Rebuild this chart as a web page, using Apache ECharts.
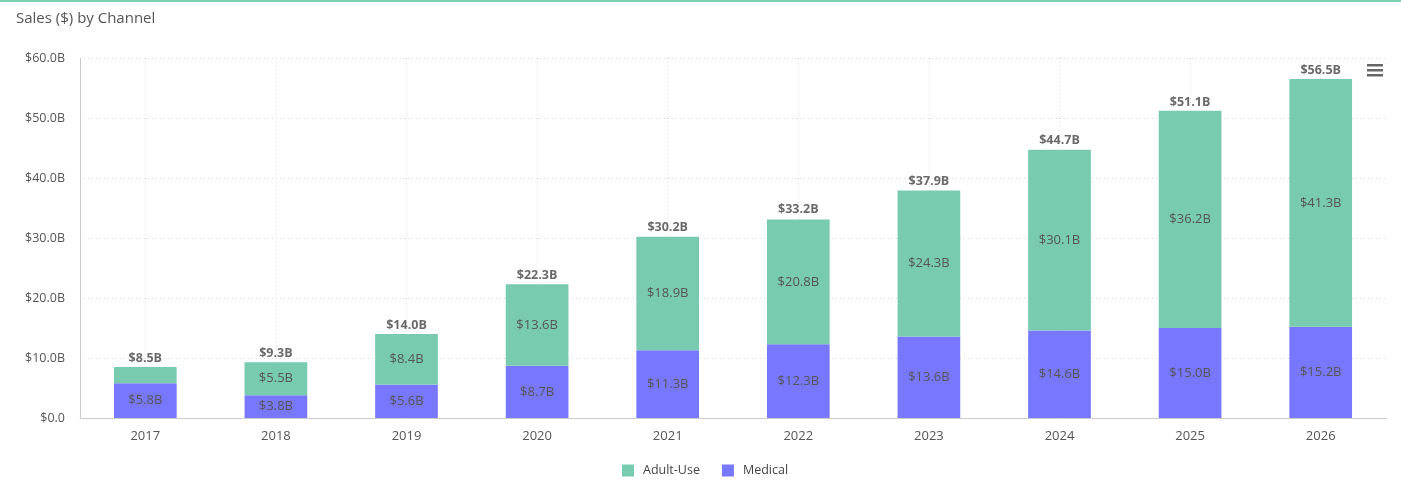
<!DOCTYPE html>
<html><head><meta charset="utf-8">
<script src="https://cdn.jsdelivr.net/npm/echarts@6/dist/echarts.min.js"></script>
<style>html,body{margin:0;padding:0;background:#fff}#c{width:1401px;height:487px}</style>
</head><body><div id="c"></div>
<script>
const years = ['2017','2018','2019','2020','2021','2022','2023','2024','2025','2026'];
const medical = [5.8, 3.8, 5.6, 8.7, 11.3, 12.3, 13.6, 14.6, 15.0, 15.2];
const adultUse = [2.7, 5.5, 8.4, 13.6, 18.9, 20.8, 24.3, 30.1, 36.2, 41.3];
const totals = [8.5, 9.3, 14.0, 22.3, 30.2, 33.2, 37.9, 44.7, 51.1, 56.5];
const yTicks = [0, 10, 20, 30, 40, 50, 60];

const FONT = '"Open Sans", sans-serif';
const GREEN = '#78cbaf';
const PURPLE = '#7878ff';
const fmtB = v => '$' + v.toFixed(1) + 'B';

const chart = echarts.init(document.getElementById('c'));
chart.setOption({
  animation: false,
  textStyle: { fontFamily: FONT },
  title: { text: 'Sales ($) by Channel', left: 11, top: 6,
    textStyle: { fontFamily: FONT, fontSize: 15, fontWeight: 'normal', color: '#555' } },
  legend: { bottom: 5, left: 617, itemWidth: 12, itemHeight: 12, itemGap: 22, icon: 'rect',
    data: ['Adult-Use', 'Medical'],
    textStyle: { fontFamily: FONT, fontSize: 12.5, color: '#444', padding: [0, 0, 0, 4] } },
  grid: { left: 80, right: 15, top: 58, bottom: 69, containLabel: false },
  xAxis: { type: 'category', data: years,
    axisLine: { lineStyle: { color: '#ccc' } },
    axisTick: { show: false },
    axisLabel: { color: '#555', fontSize: 13, margin: 12, fontFamily: FONT },
    splitLine: { show: true, alignWithLabel: true, lineStyle: { color: '#ddd', type: [1, 3] } } },
  yAxis: { type: 'value', min: yTicks[0], max: yTicks[yTicks.length - 1], interval: 10,
    axisLine: { show: true, lineStyle: { color: '#ccc' } },
    axisTick: { show: false },
    axisLabel: { color: '#555', fontSize: 12.5, margin: 15, fontFamily: FONT,
      formatter: v => v === 0 ? '$0.0' : fmtB(v) },
    splitLine: { lineStyle: { color: '#ddd', type: [1, 3] } } },
  series: [
    { name: 'Medical', type: 'bar', stack: 's', data: medical, barWidth: '48%',
      itemStyle: { color: PURPLE },
      label: { show: true, position: 'inside', color: '#555', fontSize: 13, fontFamily: FONT,
        formatter: p => fmtB(p.value) } },
    { name: 'Adult-Use', type: 'bar', stack: 's', data: adultUse, barWidth: '48%',
      itemStyle: { color: GREEN },
      label: { show: true, position: 'inside', color: '#555', fontSize: 13, fontFamily: FONT,
        formatter: p => p.value < 4 ? '' : fmtB(p.value) } },
    { name: 'Total', type: 'scatter', data: totals, symbolSize: 1, itemStyle: { color: 'rgba(0,0,0,0)' },
      silent: true, z: 5,
      label: { show: true, position: 'top', distance: 2, color: '#444', fontWeight: 'bold', fontSize: 12.5,
        fontFamily: FONT, formatter: p => fmtB(p.value) } }
  ],
  graphic: [
    { type: 'rect', left: 0, top: 0, shape: { width: 1401, height: 2 }, style: { fill: '#7fd1b6' } },
    { type: 'rect', left: 1367, top: 64, shape: { width: 16, height: 2.5 }, style: { fill: '#666' } },
    { type: 'rect', left: 1367, top: 69, shape: { width: 16, height: 2.5 }, style: { fill: '#666' } },
    { type: 'rect', left: 1367, top: 74, shape: { width: 16, height: 2.5 }, style: { fill: '#666' } }
  ]
});
</script></body></html>
